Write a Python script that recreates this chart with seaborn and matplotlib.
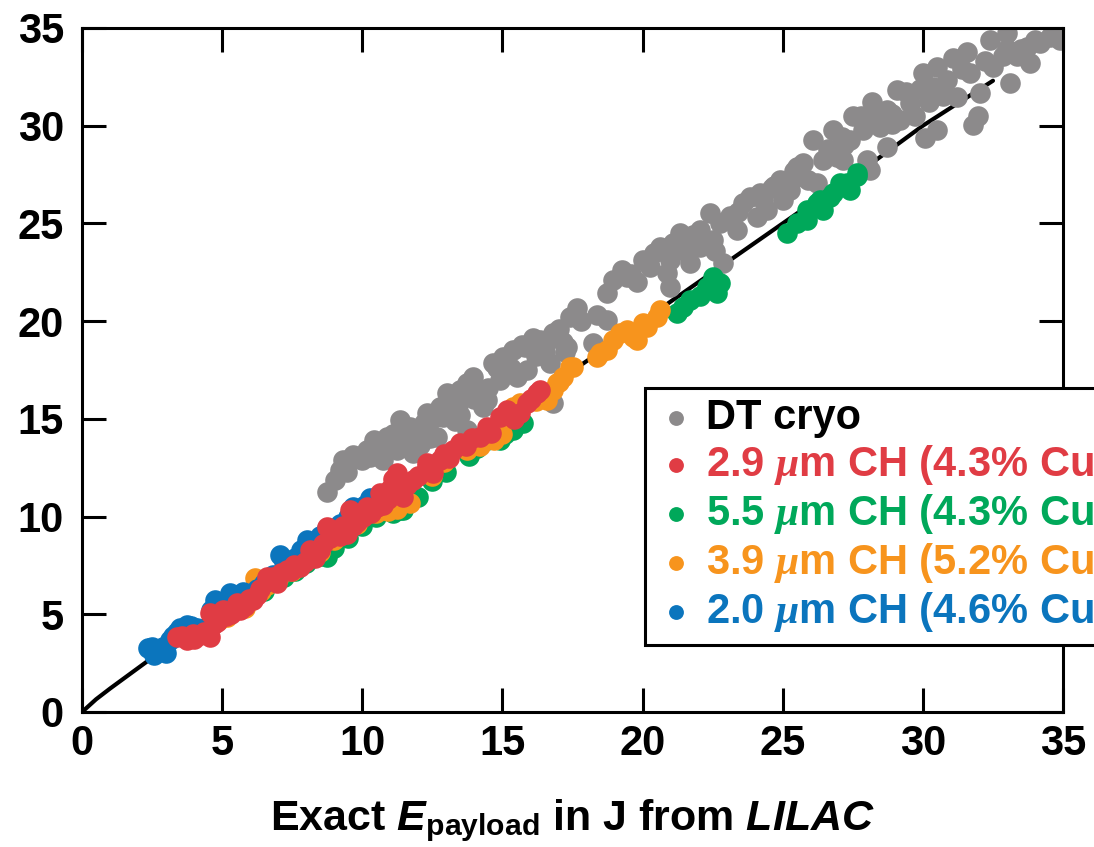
import matplotlib
matplotlib.use("Agg")
import matplotlib.pyplot as plt
import numpy as np
import pandas as pd
import seaborn as sns

# model curve (exact payload vs inferred)
line_x = [0, 0.5, 1, 2, 3, 5, 7, 10, 13, 15, 18, 20, 23, 26, 28, 30, 32.5]
line_y = [0, 0.65, 1.2, 2.25, 3.3, 5.35, 7.3, 10.2, 13.1, 15.0, 17.95, 20.0, 23.0, 26.0, 27.9, 30.0, 32.3]

# DT cryo
dt_x = [8.73, 9.03, 9.44, 9.68, 10.16, 10.27, 10.51, 10.74, 10.87, 11.23, 11.34, 11.46, 11.70, 11.82, 11.94,
        12.06, 12.30, 12.65, 12.77, 12.89, 13.01, 13.49, 13.72, 13.72, 13.96, 14.32, 14.44, 14.67, 14.91, 15.03,
        15.39, 15.51, 15.86, 16.10, 16.34, 16.70, 16.81, 16.81, 17.17, 17.23, 17.29, 17.41, 17.65, 18.24, 18.36,
        18.72, 18.72, 18.96, 19.25, 19.43, 20.03, 20.26, 20.62, 20.86, 20.98, 20.98, 21.33, 21.45, 21.69, 22.05,
        22.05, 22.40, 22.52, 22.76, 22.88, 23.36, 23.59, 23.83, 24.07, 24.19, 24.43, 24.90, 25.02, 25.26, 25.50,
        25.73, 26.09, 26.21, 26.45, 26.80, 26.92, 27.16, 27.40, 27.52, 27.87, 27.99, 28.11, 28.17, 28.47, 28.71,
        28.71, 29.06, 29.18, 29.54, 29.72, 30.01, 30.08, 30.37, 30.49, 30.49, 30.85, 31.08, 31.21, 31.56, 31.68,
        31.80, 31.98, 32.04, 32.39, 32.51, 32.87, 32.99, 33.11, 33.35, 33.70, 33.82, 34.18, 34.53, 34.89,
        9.30, 10.00, 10.60, 11.10, 12.00, 12.50, 13.20, 13.30, 14.00, 14.80, 15.20, 15.70, 16.50, 19.80, 21.90,
        23.10, 24.60, 25.40, 27.20, 28.90, 30.70, 33.50, 34.70,
        9.20, 9.90, 10.40, 11.00, 11.60, 12.20, 12.40, 13.40, 13.50, 14.10, 14.50, 15.30, 15.80, 16.20, 16.60,
        17.00, 17.80, 19.60, 20.40, 21.10, 21.80, 22.60, 23.40, 24.30, 24.70, 25.40, 25.90, 26.60, 27.10, 27.80,
        28.30, 28.90, 29.40, 29.90, 30.20, 31.40, 32.20, 33.00, 34.00]
dt_y = [11.27, 11.87, 12.30, 13.15, 13.41, 13.07, 13.66, 12.90, 14.09, 13.41, 14.94, 13.58, 14.60, 13.25, 13.92,
        13.66, 15.29, 14.09, 15.62, 15.11, 16.31, 16.48, 16.82, 14.43, 17.16, 15.62, 15.97, 17.85, 16.99, 18.18,
        18.53, 17.16, 17.50, 19.12, 19.04, 17.85, 19.38, 15.79, 18.95, 18.44, 18.69, 20.23, 20.66, 18.86, 20.32,
        20.06, 21.43, 22.11, 22.62, 22.28, 23.13, 22.79, 23.81, 22.45, 21.77, 23.13, 24.50, 23.64, 22.96, 23.81,
        24.67, 25.52, 24.16, 25.01, 22.96, 24.67, 26.03, 26.37, 25.35, 26.54, 25.69, 27.23, 26.20, 26.71, 27.91,
        28.08, 29.27, 27.06, 28.25, 29.78, 28.42, 28.25, 29.27, 30.47, 29.78, 28.25, 27.74, 31.23, 29.95, 28.93,
        30.81, 31.83, 30.30, 31.15, 30.47, 32.68, 29.36, 32.00, 29.78, 33.02, 32.34, 33.45, 31.49, 33.79, 32.68,
        30.04, 30.47, 31.66, 34.39, 33.02, 33.54, 34.73, 32.17, 33.54, 34.05, 33.19, 34.22, 34.56, 34.39,
        12.90, 12.90, 13.30, 14.20, 14.50, 15.00, 15.80, 14.90, 16.00, 17.60, 17.40, 18.80, 18.40, 22.00, 24.20,
        25.40, 26.80, 27.30, 29.00, 30.10, 31.50, 33.90, 35.00,
        12.40, 13.00, 13.90, 13.80, 14.20, 14.80, 14.00, 15.70, 15.20, 16.30, 16.60, 17.60, 18.70, 18.20, 19.00,
        19.60, 20.00, 22.40, 23.50, 24.00, 24.40, 23.60, 25.60, 26.20, 26.90, 27.70, 27.20, 28.80, 29.40, 30.50,
        30.30, 30.60, 31.70, 31.90, 31.20, 32.90, 33.30, 33.90, 34.40]

# 2.9 um CH (4.3% Cu)
red_x = [3.38, 3.73, 3.95, 4.21, 4.57, 4.57, 4.80, 5.04, 5.30, 5.52, 5.80, 6.11, 6.35, 6.59, 6.95, 7.10, 7.30,
         7.55, 7.78, 8.13, 8.30, 8.49, 8.73, 8.97, 9.20, 9.44, 9.56, 9.80, 10.04, 10.16, 10.51, 10.63, 10.90,
         11.00, 11.23, 11.34, 11.46, 11.82, 12.30, 12.30, 12.53, 12.77, 13.25, 13.49, 14.20, 14.44, 14.91, 15.15,
         15.63, 15.86, 16.22, 16.34,
         3.55, 4.00, 4.35, 4.70, 5.15, 5.65, 5.95, 6.25, 6.80, 7.45, 7.95, 8.60, 8.85, 9.30, 9.65, 10.30, 10.75,
         11.10, 11.60, 12.00, 12.90, 13.10, 13.70, 13.90, 14.60, 15.40, 16.00]
red_y = [3.85, 3.68, 4.00, 3.94, 3.85, 5.05, 4.60, 5.22, 5.00, 5.56, 5.40, 5.73, 6.30, 6.92, 6.59, 7.10, 7.27,
         7.50, 7.44, 8.29, 7.90, 8.29, 9.48, 9.31, 9.00, 9.13, 10.34, 9.70, 9.99, 10.51, 10.51, 11.19, 10.90,
         11.40, 12.21, 11.53, 11.02, 11.87, 12.55, 12.73, 12.21, 12.90, 13.41, 13.75, 14.09, 14.60, 15.11, 15.46,
         15.29, 15.79, 16.31, 16.48,
         3.90, 3.75, 4.10, 4.50, 4.90, 5.20, 5.80, 6.00, 6.90, 7.20, 7.70, 8.60, 8.90, 9.50, 9.50, 10.20, 10.60,
         11.90, 11.60, 12.10, 13.20, 13.00, 13.60, 14.00, 14.30, 15.00, 16.00]

# 5.5 um CH (4.3% Cu)
grn_x = [6.50, 7.20, 8.00, 8.50, 8.73, 9.50, 10.50, 11.11, 11.34, 11.46, 12.00, 13.00, 13.80, 14.44, 14.91,
         15.39, 15.74, 21.22, 21.45, 21.69, 22.05, 22.29, 22.52, 22.64, 22.76, 25.14, 25.50, 25.85, 25.85, 26.21,
         26.33, 26.45, 26.69, 26.80, 27.04, 27.28, 27.40, 27.64, 27.64,
         7.60, 9.00, 10.00, 12.50, 14.10, 15.10]
grn_y = [6.20, 6.90, 7.60, 8.00, 7.95, 8.90, 10.00, 10.16, 10.34, 10.34, 11.00, 12.30, 13.10, 13.92, 13.92,
         14.43, 14.77, 20.40, 20.74, 21.09, 21.26, 21.77, 22.28, 21.43, 21.94, 24.50, 25.01, 25.18, 25.69, 26.03,
         26.20, 25.69, 26.37, 26.54, 27.06, 27.06, 26.71, 27.40, 27.57,
         7.20, 8.40, 9.50, 11.80, 13.50, 14.20]

# 3.9 um CH (5.2% Cu)
org_x = [4.90, 5.16, 5.80, 6.17, 6.60, 7.50, 8.00, 9.00, 9.80, 10.50, 11.23, 11.70, 12.50, 13.72, 14.20, 15.00,
         15.39, 15.63, 16.58, 16.81, 16.94, 17.17, 17.41, 17.53, 18.36, 18.48, 18.72, 18.96, 19.19, 19.43, 19.67,
         19.79, 20.03, 20.15, 20.50, 20.62,
         6.40, 7.00, 8.50, 10.90, 12.90, 14.70, 16.20, 17.00]
org_y = [4.70, 4.88, 5.30, 6.86, 6.50, 7.20, 7.80, 8.80, 9.60, 10.20, 10.41, 10.70, 12.10, 13.41, 13.60, 14.20,
         15.62, 15.79, 15.97, 16.48, 16.82, 17.16, 17.67, 17.67, 18.18, 18.36, 18.53, 19.04, 19.38, 19.55, 19.21,
         19.04, 19.89, 19.72, 20.23, 20.57,
         6.20, 6.80, 8.20, 10.30, 12.80, 13.90, 15.90, 16.90]

# 2.0 um CH (4.6% Cu)
blu_x = [2.37, 2.55, 2.78, 3.00, 3.14, 3.38, 3.73, 4.10, 4.40, 4.74, 5.00, 5.28, 5.75, 6.00, 6.50, 7.06, 7.30,
         7.60, 8.02, 8.30, 8.73, 9.20, 9.67, 10.00, 10.27,
         2.50, 2.90, 3.25, 3.50, 3.90, 4.60, 5.50, 6.25, 6.80, 7.20, 7.80, 8.50, 8.90, 9.50, 10.10]
blu_y = [3.26, 2.90, 3.17, 3.00, 3.68, 4.11, 4.45, 4.30, 4.20, 5.73, 5.40, 6.09, 6.14, 5.90, 6.60, 8.03, 7.50,
         7.90, 8.80, 8.60, 9.42, 9.60, 10.50, 10.20, 10.95,
         3.30, 3.30, 3.90, 4.30, 4.40, 5.20, 6.00, 6.30, 7.00, 7.70, 8.30, 9.00, 9.20, 10.00, 10.60]

series = [
    ("DT cryo", dt_x, dt_y, "#8c8a8b"),
    ("5.5 $\\mu$m CH (4.3% Cu)", grn_x, grn_y, "#00a85a"),
    ("3.9 $\\mu$m CH (5.2% Cu)", org_x, org_y, "#f7941d"),
    ("2.0 $\\mu$m CH (4.6% Cu)", blu_x, blu_y, "#0b75bd"),
    ("2.9 $\\mu$m CH (4.3% Cu)", red_x, red_y, "#e03c44"),
]
legend_order = [0, 4, 1, 2, 3]

sns.set_style("ticks")
plt.rcParams["font.family"] = ["Liberation Sans", "DejaVu Sans"]
plt.rcParams["font.weight"] = "bold"
plt.rcParams["text.color"] = "black"
plt.rcParams["axes.labelcolor"] = "black"
plt.rcParams["axes.edgecolor"] = "black"
plt.rcParams["xtick.color"] = "black"
plt.rcParams["ytick.color"] = "black"
plt.rcParams["mathtext.fontset"] = "custom"
plt.rcParams["mathtext.rm"] = "Liberation Sans:bold"
plt.rcParams["mathtext.bf"] = "Liberation Sans:bold"
plt.rcParams["mathtext.sf"] = "Liberation Sans:bold:italic"
plt.rcParams["mathtext.it"] = "Liberation Serif:italic"

fig = plt.figure(figsize=(10.94, 8.47), dpi=100)
ax = fig.add_axes([0.075, 0.1594, 0.8967, 0.8076])

sns.lineplot(x=line_x, y=line_y, color="black", linewidth=3, sort=False, ax=ax, zorder=1)

for label, xs, ys, col in series:
    sns.scatterplot(x=xs, y=ys, color=col, s=220, linewidth=0, ax=ax, label=label, zorder=2)

ax.set_xlim(0, 35)
ax.set_ylim(0, 35)
ax.set_xticks(np.arange(0, 36, 5))
ax.set_yticks(np.arange(0, 36, 5))
ax.tick_params(direction="in", length=17, width=2.2, top=True, right=True, labelsize=30)
ax.tick_params(axis="x", pad=9)
ax.tick_params(axis="y", pad=13)
for sp in ax.spines.values():
    sp.set_linewidth(2.2)
    sp.set_visible(True)

ax.set_xlabel(r"Exact $\mathsf{E}_{\mathrm{payload}}$ in J from $\mathsf{LILAC}$", fontsize=31,
              fontweight="bold", labelpad=24)
ax.set_ylabel("")

handles, labels = ax.get_legend_handles_labels()
handles = [handles[i] for i in legend_order]
labels = [labels[i] for i in legend_order]
leg = ax.legend(handles, labels, loc="upper left", bbox_to_anchor=(0.574, 0.474), fontsize=30,
                frameon=True, fancybox=False, framealpha=1, edgecolor="black", markerscale=0.72,
                handletextpad=0.2, handlelength=1.0, labelspacing=0.12, borderpad=0.25, borderaxespad=0)
leg.get_frame().set_linewidth(2.2)
for txt, idx in zip(leg.get_texts(), legend_order):
    col = series[idx][3]
    txt.set_color("black" if idx == 0 else col)

fig.savefig("out.png", dpi=100)
